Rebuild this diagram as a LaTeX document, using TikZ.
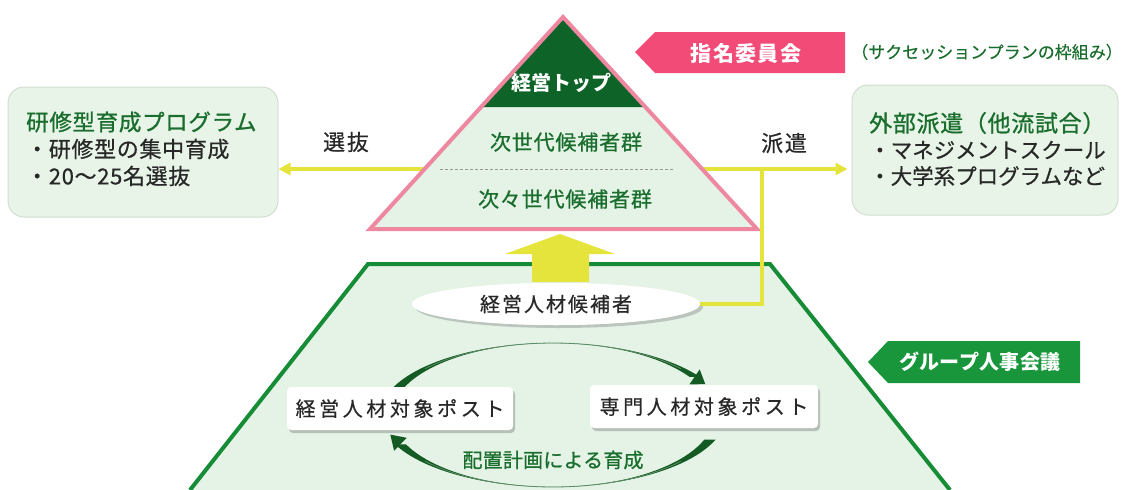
\documentclass[tikz,border=0pt]{standalone}
\usepackage{fontspec}
\setmainfont{Noto Sans CJK JP}
\usetikzlibrary{arrows.meta,shadows,shapes.geometric,calc}

\definecolor{pinkline}{RGB}{238,135,160}
\definecolor{lightfill}{RGB}{228,243,230}
\definecolor{topgreen}{RGB}{14,100,40}
\definecolor{trapgreen}{RGB}{22,140,55}
\definecolor{labgreen}{RGB}{25,150,60}
\definecolor{labpink}{RGB}{242,75,120}
\definecolor{yel}{RGB}{228,228,60}
\definecolor{txtgreen}{RGB}{25,110,45}
\definecolor{txtdark}{RGB}{40,40,40}
\definecolor{boxfill}{RGB}{232,244,232}
\definecolor{boxline}{RGB}{208,222,208}
\definecolor{arcgreen}{RGB}{20,90,35}

\newcommand\lsp[1]{\addfontfeature{LetterSpace=#1}}
\newcommand\fb[1]{\addfontfeature{FakeBold=#1}}
\newcommand\fsz[1]{\fontsize{#1}{#1}\selectfont}

\begin{document}
\begin{tikzpicture}[x=1pt,y=-1pt,
  infobox/.style={draw=boxline, line width=1pt, fill=boxfill, rounded corners=16pt,
     minimum width=270pt, minimum height=130pt, inner sep=0pt},
  postbox/.style={fill=white, rounded corners=4pt, minimum height=43pt, inner sep=0pt,
     text=txtdark, font=\fsz{20}\lsp{18}\fb{0.6},
     drop shadow={shadow xshift=2pt,shadow yshift=-3pt,fill=black!50,opacity=0.45}},
  yline/.style={draw=yel, line width=3.5pt},
  yarrow/.style={yline, -{Triangle[length=12pt,width=12pt]}},
  txt/.style={inner sep=0pt, text=txtdark},
  gtxt/.style={inner sep=0pt, text=txtgreen},
  labtxt/.style={inner sep=0pt, text=white, font=\bfseries\fsz{19}\lsp{8}}
]
\useasboundingbox (0,0) rectangle (1122,490);

% side boxes
\node[infobox] (lbox) at (143,152) {};
\node[infobox, minimum width=266pt] (rbox) at (985,150) {};

% connector starts inside the triangle
\coordinate (selstart) at (450,169);
\coordinate (hakstart) at (680,169);
\coordinate (junc) at (762,169);
\draw[yarrow] (selstart) -- (selstart -| lbox.east);
\draw[yarrow, shorten >=4pt] (hakstart) -- (hakstart -| rbox.west);

% pyramid
\fill[lightfill] (563,17) -- (757,229) -- (370,229) -- cycle;
\fill[topgreen] (563,17) -- (645.4,107) -- (481.1,107) -- cycle;
\draw[pinkline, line width=4pt] (563,17) -- (757,229) -- (370,229) -- cycle;
\draw[black!40, line width=0.8pt, dash pattern=on 3pt off 2pt] (440,169) -- (673,169);

\node[labtxt, font=\bfseries\fsz{20}] (top) at (561,83) {経営トップ};
\node[gtxt, font=\fsz{21}\lsp{4}\fb{0.8}] (gen1) at (566,142) {次世代候補者群};
\node[gtxt, font=\fsz{21}\lsp{4}\fb{0.8}] (gen2) at (565,199) {次々世代候補者群};

\node[txt, font=\fsz{22}\lsp{8}\fb{0.5}] (sel) at (346,142) {選抜};
\node[txt, font=\fsz{22}\lsp{8}\fb{0.5}] (hak) at (784,143) {派遣};

% box texts
\node[gtxt, anchor=west, font=\fsz{22.5}\lsp{3}\fb{1}] (lt1) at (26,122) {研修型育成プログラム};
\node[txt, anchor=west, font=\fsz{22}\lsp{3}\fb{0.6}] (lt2) at (26,149) {・研修型の集中育成};
\node[txt, anchor=west, font=\fsz{22}\lsp{3}\fb{0.6}] (lt3) at (26,176) {・20〜25名選抜};
\node[gtxt, anchor=west, font=\fsz{23}\lsp{3}\fb{1}] (rt1) at (869,123) {外部派遣（他流試合）};
\node[txt, anchor=west, font=\fsz{21.5}\fb{0.6}] (rt2) at (869,150) {・マネジメントスクール};
\node[txt, anchor=west, font=\fsz{21.5}\fb{0.6}] (rt3) at (869,176) {・大学系プログラムなど};

% trapezoid
\fill[lightfill] (190,490) -- (368,264) -- (770,264) -- (950,490) -- cycle;
\draw[trapgreen, line width=4pt, line join=miter] (190,490) -- (368,264) -- (770,264) -- (950,490);

% up arrow
\fill[yel] (532,282) -- (532,254) -- (505,254) -- (560,234) -- (615,254) -- (589,254) -- (589,282) -- cycle;

% ellipse and its connector
\node[ellipse, fill=white, minimum width=288pt, minimum height=42pt, inner sep=0pt,
      drop shadow={shadow xshift=3pt,shadow yshift=-3pt,fill=black!50,opacity=0.4}] (ell) at (556,304) {};
\draw[yline] (ell.east) -| (junc);
\node[ellipse, fill=white, minimum width=288pt, minimum height=42pt, inner sep=0pt,
      text=txtdark, font=\fsz{20}\lsp{10}\fb{0.6}] (ellt) at (556,304) {経営人材候補者};

% circular arrows
\fill[arcgreen] plot[domain=160:32, samples=50, variable=\t] ({553+173*cos(\t)},{415-72*sin(\t)})
  -- plot[domain=32:160, samples=50, variable=\t] ({553+161*cos(\t)},{415-72*sin(\t)}) -- cycle;
\draw[arcgreen!70, line width=0.8pt] plot[domain=140:40, samples=40, variable=\t] ({553+167*cos(\t)},{415-72*sin(\t)});
\fill[arcgreen] (689.5,384.3) -- (705.3,384.2) -- (699.7,369.4) -- cycle;

\fill[arcgreen] plot[domain=-20:-156, samples=50, variable=\t] ({553+173*cos(\t)},{415-72*sin(\t)})
  -- plot[domain=-156:-20, samples=50, variable=\t] ({553+161*cos(\t)},{415-72*sin(\t)}) -- cycle;
\draw[arcgreen!70, line width=0.8pt] plot[domain=-40:-140, samples=40, variable=\t] ({553+167*cos(\t)},{415-72*sin(\t)});
\fill[arcgreen] (406.7,437.8) -- (390.3,434.6) -- (394.1,450.8) -- cycle;

\node[postbox, minimum width=226pt] (lpost) at (400,408.5) {経営人材対象ポスト};
\node[postbox, minimum width=228pt] (rpost) at (704,406.5) {専門人材対象ポスト};
\node[gtxt, font=\fsz{20}\lsp{1}\fb{0.8}] (haichi) at (553,460) {配置計画による育成};

% labels
\fill[labpink] (635,52) -- (655,32) -- (845,32) -- (845,73) -- (655,73) -- cycle;
\node[labtxt, font=\bfseries\fsz{21}\lsp{6}] (shimei) at (746,53) {指名委員会};
\node[gtxt, font=\fsz{17}\fb{0.4}] (frame) at (987,52) {（サクセッションプランの枠組み）};

\fill[labgreen] (868,362) -- (888,341) -- (1080,341) -- (1080,383) -- (888,383) -- cycle;
\node[labtxt, font=\bfseries\fsz{20}\lsp{2}] (group) at (980,362) {グループ人事会議};
\end{tikzpicture}
\end{document}
